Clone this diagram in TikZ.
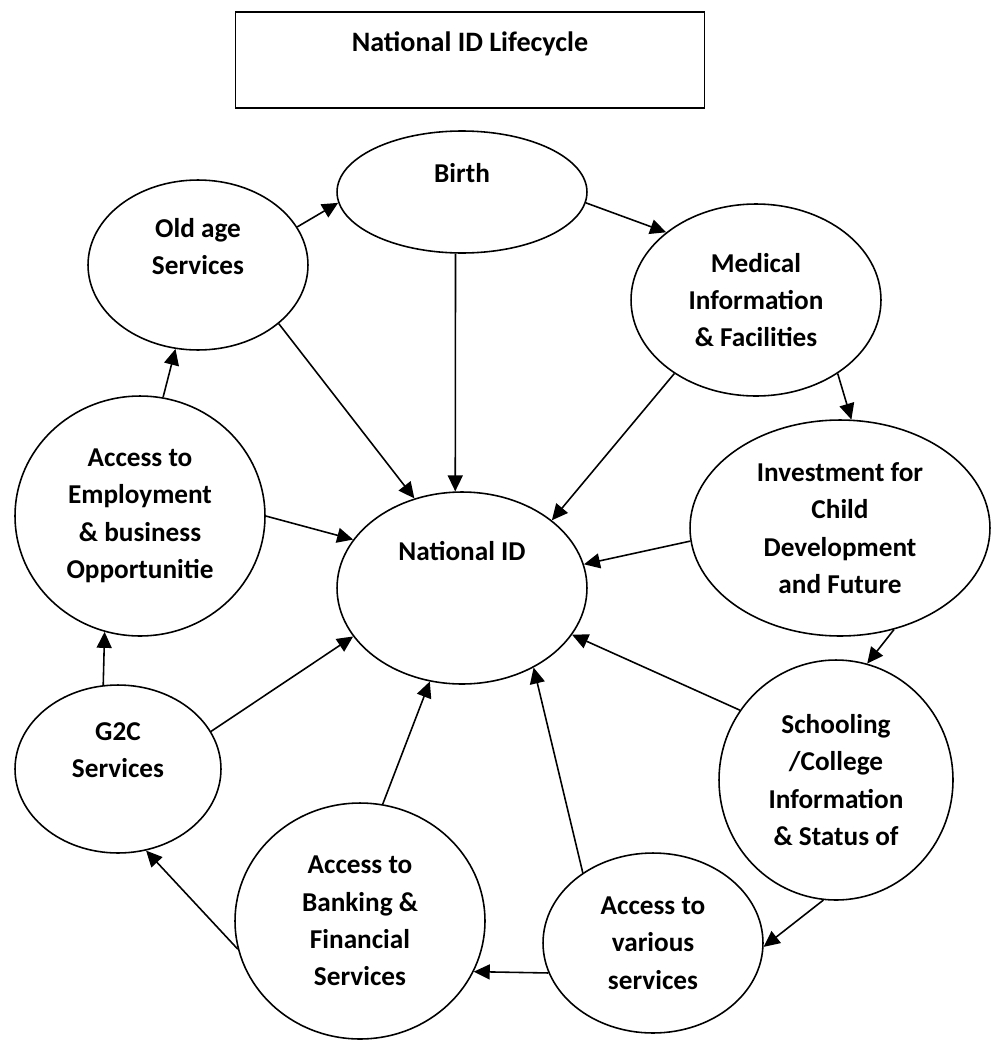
\documentclass[tikz,border=0pt]{standalone}
\usepackage{fontspec}
\setmainfont{Carlito}
\usetikzlibrary{arrows.meta,shapes.geometric}
\tikzset{
  etapa/.style  = {ellipse, draw=black, line width=0.9pt, inner sep=0pt,
                   align=center, font=\fontsize{15.5}{21.3}\selectfont\bfseries},
  marco/.style  = {rectangle, draw=black, line width=0.9pt, inner sep=0pt,
                   align=center, font=\fontsize{16}{21.3}\selectfont\bfseries},
  enlace/.style = {-{Triangle[length=3.2mm,width=3mm]}, line width=0.9pt, draw=black},
}

\begin{document}
\begin{tikzpicture}[x=0.02cm, y=-0.02cm]
    \useasboundingbox (0,0) rectangle (992,1041);

    % --- titulo
    \node[marco, minimum width=9.38cm, minimum height=1.92cm] (titulo) at (470,60)
      {National ID Lifecycle\\~};

    % --- etapas del ciclo
    \node[etapa, minimum width=5cm,    minimum height=2.44cm] (birth)   at (462,192) {Birth\\~};
    \node[etapa, minimum width=4.4cm,  minimum height=3.4cm]  (oldage)  at (198,265) {Old age\\Services\\~};
    \node[etapa, minimum width=5cm,    minimum height=3.84cm] (medical) at (756,300)
      {Medical\\Information\\\& Facilities};
    \node[etapa, minimum width=6cm,    minimum height=4.32cm] (invest)  at (840,528)
      {Investment for\\Child\\Development\\and Future};
    \node[etapa, minimum width=5cm,    minimum height=4.8cm]  (employ)  at (140,516)
      {Access to\\Employment\\\& business\\Opportunitie};
    \node[etapa, minimum width=5cm,    minimum height=3.84cm] (natid)   at (462,588) {National ID\\~\\~};
    \node[etapa, minimum width=4.12cm, minimum height=3.36cm] (g2c)     at (118,769) {G2C\\Services\\~};
    \node[etapa, minimum width=4.68cm, minimum height=4.8cm]  (school)  at (836,780)
      {Schooling\\/College\\Information\\\& Status of};
    \node[etapa, minimum width=5cm,    minimum height=4.72cm] (banking) at (360,921)
      {Access to\\Banking \&\\Financial\\Services};
    \node[etapa, minimum width=4.4cm,  minimum height=3.6cm]  (various) at (653,943)
      {Access to\\various\\services};

    % --- flechas del ciclo
    \draw[enlace] (oldage.21)    -- (birth.185.5);
    \draw[enlace] (birth.-5.5)   -- (medical.143);
    \draw[enlace] (medical.-42)  -- (invest.84.7);
    \draw[enlace] (invest.-62.6) -- (school.75.6);
    \draw[enlace] (school.-96.6) -- (various.-2.1);
    \draw[enlace] (various.-164.7) -- (banking.-24.1);
    \draw[enlace] (banking.-167.8) -- (g2c.-71);
    \draw[enlace] (g2c.100.1)    -- (employ.-107);
    \draw[enlace] (employ.79.6)  -- (oldage.-105.1);

    % --- flechas hacia National ID
    \draw[enlace] (birth.-96.5)   -- (natid.94.2);
    \draw[enlace] (oldage.-36.9)  -- (natid.118.4);
    \draw[enlace] (medical.-138.7) -- (natid.37.3);
    \draw[enlace] (invest.-175.1) -- (natid.11.3);
    \draw[enlace] (school.144.5)  -- (natid.-23.8);
    \draw[enlace] (various.135)   -- (natid.-48.3);
    \draw[enlace] (banking.79.3)  -- (natid.-109.8);
    \draw[enlace] (g2c.22.6)      -- (natid.-156);
    \draw[enlace] (employ.0)      -- (natid.156.4);
\end{tikzpicture}
\end{document}
